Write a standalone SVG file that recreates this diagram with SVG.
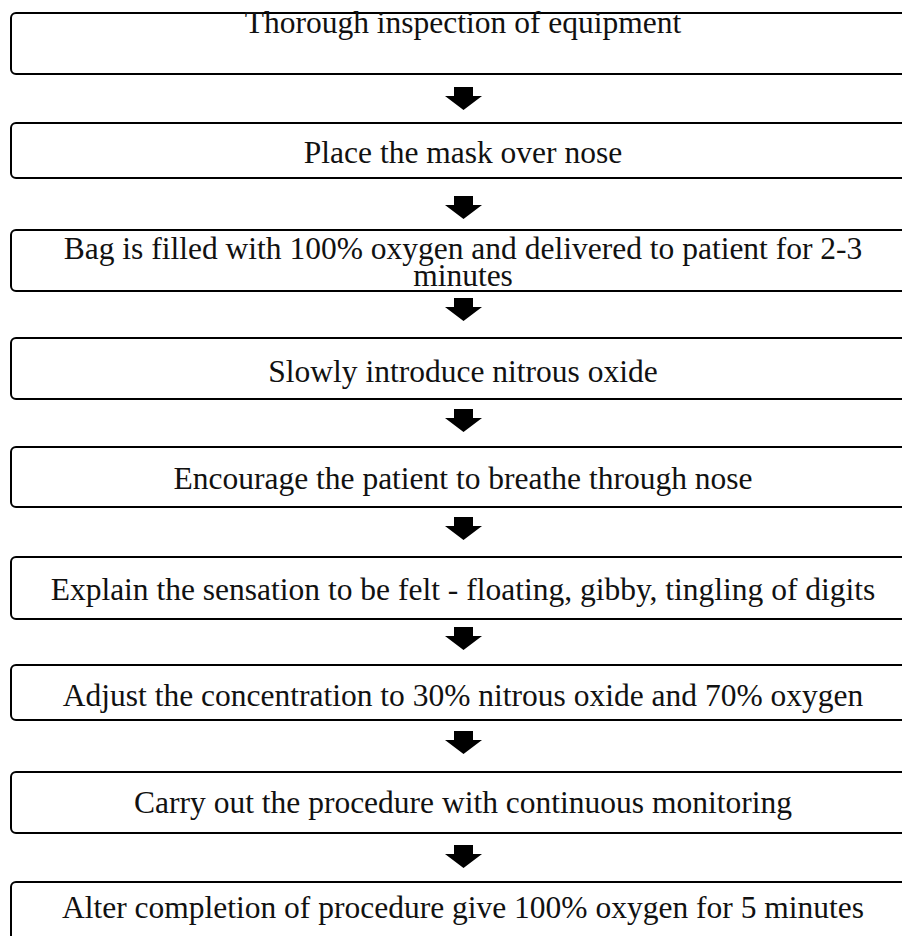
<svg xmlns="http://www.w3.org/2000/svg" width="902" height="936" viewBox="0 0 902 936">
<style>
.box{fill:#fff;stroke:#000;stroke-width:2}
.t{font-family:"Liberation Serif","Times New Roman",serif;font-size:31.5px;fill:#111;text-anchor:middle}
.arr{fill:#000}
</style>
<defs>
<path id="arrow" class="arr" d="M-9.5,0 H9.5 V9 H18.5 L0,23 L-18.5,9 H-9.5 Z"/>
</defs>
<rect width="902" height="936" fill="#fff"/>
<g id="n1"><rect class="box" x="11" y="13" width="910" height="61" rx="5"/><text class="t" x="463" y="33">Thorough inspection of equipment</text></g>
<g id="n2"><rect class="box" x="11" y="123" width="910" height="55" rx="5"/><text class="t" x="463" y="163">Place the mask over nose</text></g>
<g id="n3"><rect class="box" x="11" y="230" width="910" height="61" rx="5"/><text class="t" x="463" y="259">Bag is filled with 100% oxygen and delivered to patient for 2-3</text><text class="t" x="463" y="286">minutes</text></g>
<g id="n4"><rect class="box" x="11" y="338" width="910" height="61" rx="5"/><text class="t" x="463" y="382">Slowly introduce nitrous oxide</text></g>
<g id="n5"><rect class="box" x="11" y="447" width="910" height="60" rx="5"/><text class="t" x="463" y="489">Encourage the patient to breathe through nose</text></g>
<g id="n6"><rect class="box" x="11" y="557" width="910" height="62" rx="5"/><text class="t" x="463" y="600">Explain the sensation to be felt - floating, gibby, tingling of digits</text></g>
<g id="n7"><rect class="box" x="11" y="665" width="910" height="55" rx="5"/><text class="t" x="463" y="706">Adjust the concentration to 30% nitrous oxide and 70% oxygen</text></g>
<g id="n8"><rect class="box" x="11" y="772" width="910" height="61" rx="5"/><text class="t" x="463" y="813">Carry out the procedure with continuous monitoring</text></g>
<g id="n9"><rect class="box" x="11" y="882" width="910" height="80" rx="5"/><text class="t" x="463" y="918">Alter completion of procedure give 100% oxygen for 5 minutes</text></g>
<g id="connectors">
<use href="#arrow" x="463.5" y="87"/>
<use href="#arrow" x="463.5" y="196"/>
<use href="#arrow" x="463.5" y="298"/>
<use href="#arrow" x="463.5" y="409"/>
<use href="#arrow" x="463.5" y="517"/>
<use href="#arrow" x="463.5" y="627"/>
<use href="#arrow" x="463.5" y="731"/>
<use href="#arrow" x="463.5" y="845"/>
</g>
</svg>
